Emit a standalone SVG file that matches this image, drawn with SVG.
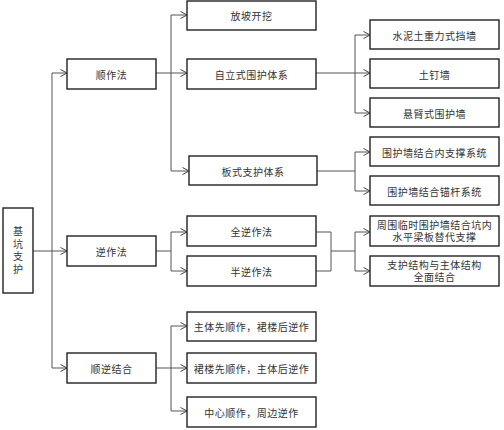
<svg xmlns="http://www.w3.org/2000/svg" width="504" height="430" viewBox="0 0 504 430">
<defs>
<marker id="arr" viewBox="0 0 8 8" refX="7.5" refY="4" markerWidth="8" markerHeight="8" markerUnits="userSpaceOnUse" orient="auto">
<path d="M1,0.5 L7.5,4 L1,7.5" fill="none" stroke="#444" stroke-width="1"/>
</marker>
</defs>
<style>
.box{fill:#fff;stroke:#222;stroke-width:1.4}
.t{font-family:"Noto Sans CJK SC","Noto Sans",sans-serif;font-size:10px;fill:#333;text-anchor:middle;dominant-baseline:central;letter-spacing:0.5px}
.t2{font-family:"Liberation Sans","Noto Sans CJK SC",sans-serif;font-size:10px;fill:#333;text-anchor:middle;letter-spacing:0.5px}
.v{font-family:"Noto Sans CJK SC","Noto Sans",sans-serif;font-size:10px;fill:#333;text-anchor:middle;writing-mode:vertical-rl;letter-spacing:2.4px}
.ln{fill:none;stroke:#555;stroke-width:1}
.a{marker-end:url(#arr)}
</style>
<rect width="504" height="430" fill="#fff"/>
<g id="connectors">
<path class="ln" d="M33,251 H52"/>
<path class="ln" d="M52,73 V368"/>
<path class="ln a" d="M52,73 H67"/>
<path class="ln a" d="M52,251 H67"/>
<path class="ln a" d="M52,368 H67"/>
<path class="ln" d="M156,73 H171"/>
<path class="ln" d="M171,15 V171"/>
<path class="ln a" d="M171,15 H187"/>
<path class="ln a" d="M171,73 H187"/>
<path class="ln a" d="M171,171 H189"/>
<path class="ln" d="M316,73 H355"/>
<path class="ln" d="M355,35 V113"/>
<path class="ln a" d="M355,35 H370"/>
<path class="ln a" d="M355,73 H370"/>
<path class="ln a" d="M355,113 H370"/>
<path class="ln" d="M317,171 H355"/>
<path class="ln" d="M355,152 V191"/>
<path class="ln a" d="M355,152 H370"/>
<path class="ln a" d="M355,191 H370"/>
<path class="ln" d="M156,251 H171"/>
<path class="ln" d="M171,232 V271"/>
<path class="ln a" d="M171,232 H187"/>
<path class="ln a" d="M171,271 H187"/>
<path class="ln" d="M316,232 H331 V271 H316"/>
<path class="ln" d="M331,251 H355"/>
<path class="ln" d="M355,232 V271"/>
<path class="ln a" d="M355,232 H370"/>
<path class="ln a" d="M355,271 H370"/>
<path class="ln" d="M156,368 H171"/>
<path class="ln" d="M171,326 V411"/>
<path class="ln a" d="M171,326 H187"/>
<path class="ln a" d="M171,368 H187"/>
<path class="ln a" d="M171,411 H187"/>
</g>
<g id="root">
<rect class="box" x="3" y="208" width="30" height="85"/>
<text class="v" x="18" y="251.5">基坑支护</text>
</g>
<g id="n-shunzuo">
<rect class="box" x="67" y="59" width="89" height="30"/>
<text class="t" x="111.5" y="74">顺作法</text>
</g>
<g id="n-nizuo">
<rect class="box" x="67" y="236" width="89" height="30"/>
<text class="t" x="111.5" y="251">逆作法</text>
</g>
<g id="n-shunni">
<rect class="box" x="67" y="353" width="89" height="30"/>
<text class="t" x="111.5" y="368">顺逆结合</text>
</g>
<g id="n-fangpo">
<rect class="box" x="187" y="1" width="129" height="29"/>
<text class="t" x="251.5" y="15.5">放坡开挖</text>
</g>
<g id="n-zili">
<rect class="box" x="187" y="59" width="129" height="30"/>
<text class="t" x="251.5" y="74">自立式围护体系</text>
</g>
<g id="n-banshi">
<rect class="box" x="189" y="156" width="128" height="29"/>
<text class="t" x="253" y="171">板式支护体系</text>
</g>
<g id="n-quanni">
<rect class="box" x="187" y="216" width="129" height="30"/>
<text class="t" x="251.5" y="231">全逆作法</text>
</g>
<g id="n-banni">
<rect class="box" x="187" y="256" width="129" height="30"/>
<text class="t" x="251.5" y="271">半逆作法</text>
</g>
<g id="n-zhuti">
<rect class="box" x="187" y="312" width="129" height="29"/>
<text class="t" x="251.5" y="326.5">主体先顺作，裙楼后逆作</text>
</g>
<g id="n-qunlou">
<rect class="box" x="187" y="353" width="129" height="30"/>
<text class="t" x="251.5" y="368">裙楼先顺作，主体后逆作</text>
</g>
<g id="n-zhongxin">
<rect class="box" x="187" y="397" width="129" height="30"/>
<text class="t" x="251.5" y="412">中心顺作，周边逆作</text>
</g>
<g id="n-shuini">
<rect class="box" x="370" y="20" width="129" height="29"/>
<text class="t" x="434.5" y="35">水泥土重力式挡墙</text>
</g>
<g id="n-tuding">
<rect class="box" x="370" y="59" width="129" height="29"/>
<text class="t" x="434.5" y="74">土钉墙</text>
</g>
<g id="n-xuanbi">
<rect class="box" x="370" y="98" width="129" height="29"/>
<text class="t" x="434.5" y="113">悬臂式围护墙</text>
</g>
<g id="n-neizhicheng">
<rect class="box" x="370" y="137" width="129" height="29"/>
<text class="t" x="434.5" y="152">围护墙结合内支撑系统</text>
</g>
<g id="n-maogan">
<rect class="box" x="370" y="176" width="129" height="29"/>
<text class="t" x="434.5" y="191">围护墙结合锚杆系统</text>
</g>
<g id="n-zhouwei">
<rect class="box" x="370" y="216" width="129" height="30"/>
<text class="t2" x="434.5" y="228.6">周围临时围护墙结合坑内<tspan x="434.5" dy="12">水平梁板替代支撑</tspan></text>
</g>
<g id="n-quanmian">
<rect class="box" x="370" y="256" width="129" height="30"/>
<text class="t2" x="434.5" y="268.6">支护结构与主体结构<tspan x="434.5" dy="12">全面结合</tspan></text>
</g>
</svg>
